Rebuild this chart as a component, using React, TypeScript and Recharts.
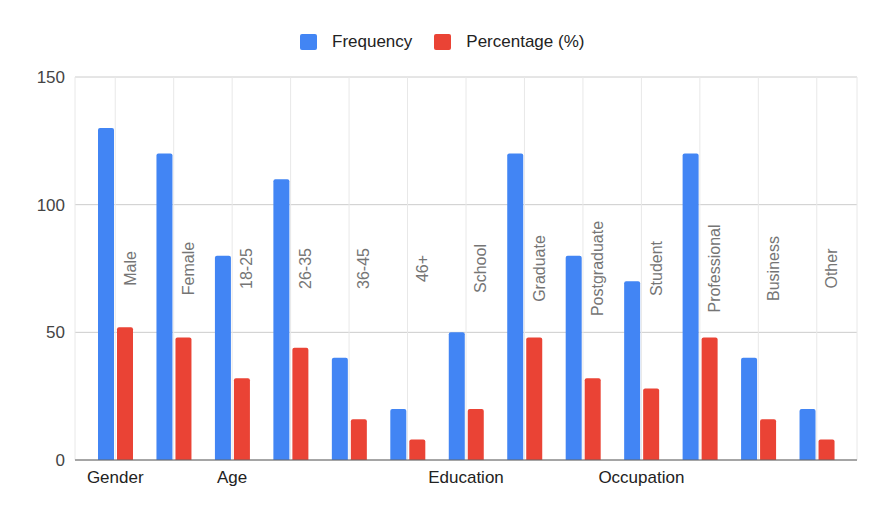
import {
  BarChart,
  Bar,
  XAxis,
  YAxis,
  CartesianGrid,
  LabelList,
} from "recharts";

const categories = [
  "Male",
  "Female",
  "18-25",
  "26-35",
  "36-45",
  "46+",
  "School",
  "Graduate",
  "Postgraduate",
  "Student",
  "Professional",
  "Business",
  "Other",
];

// group name shown under the first category of each group
const groups = [
  "Gender",
  "",
  "Age",
  "",
  "",
  "",
  "Education",
  "",
  "",
  "Occupation",
  "",
  "",
  "",
];

const frequency = [130, 120, 80, 110, 40, 20, 50, 120, 80, 70, 120, 40, 20];
const percentage = [52, 48, 32, 44, 16, 8, 20, 48, 32, 28, 48, 16, 8];

const yTicks = [0, 50, 100, 150];

const seriesNames = { frequency: "Frequency", percentage: "Percentage (%)" };

// category names sit at this value on the y axis
const NAME_LEVEL = 75;

const BLUE = "#4285F4";
const RED = "#EA4335";
const FONT = "Arial, 'Liberation Sans', sans-serif";

const data = categories.map((name, i) => ({
  name,
  group: groups[i],
  frequency: frequency[i],
  percentage: percentage[i],
}));

function GroupTick(props: any) {
  const { x, y, index } = props;
  const label = groups[index];
  if (!label) return <g />;
  return (
    <text
      x={x}
      y={y}
      dy="0.71em"
      textAnchor="middle"
      fill="#222"
      fontSize={17}
      fontFamily={FONT}
    >
      {label}
    </text>
  );
}

function CategoryName(props: any) {
  const { x, y, width, height, index } = props;
  const value = percentage[index];
  const base = y + height;
  const ty = base - (NAME_LEVEL * height) / value;
  const tx = x + width + 2.5;
  return (
    <text
      x={tx}
      y={ty}
      transform={`rotate(-90, ${tx}, ${ty})`}
      textAnchor="middle"
      fill="#757575"
      fontSize={16}
      fontFamily={FONT}
    >
      {categories[index]}
    </text>
  );
}

function LegendItem({ color, label }: { color: string; label: string }) {
  return (
    <div style={{ display: "flex", alignItems: "center" }}>
      <div
        style={{
          width: 17,
          height: 16,
          background: color,
          borderRadius: 2,
          marginRight: 15,
        }}
      />
      <span style={{ fontSize: 17, color: "#222" }}>{label}</span>
    </div>
  );
}

export default function App() {
  return (
    <div
      style={{
        margin: -8,
        width: 869,
        height: 510,
        background: "#f2f2f2",
        position: "relative",
        overflow: "hidden",
        fontFamily: FONT,
      }}
    >
      <div
        style={{
          position: "absolute",
          left: 8,
          top: 7,
          width: 861,
          height: 503,
          background: "#fff",
          boxShadow: "0 0 6px rgba(0,0,0,0.18)",
        }}
      >
        <div
          style={{
            position: "absolute",
            left: 292,
            top: 25,
            display: "flex",
            gap: 22,
            zIndex: 1,
          }}
        >
          <LegendItem color={BLUE} label={seriesNames.frequency} />
          <LegendItem color={RED} label={seriesNames.percentage} />
        </div>
        <BarChart
          width={861}
          height={503}
          data={data}
          margin={{ top: 70, right: 12, bottom: 20, left: 0 }}
          barSize={16}
          barGap={3}
        >
          <CartesianGrid stroke="#cccccc" vertical={false} />
          <CartesianGrid stroke="#e8e8e8" horizontal={false} />
          <XAxis
            dataKey="name"
            interval={0}
            padding={{ left: 11, right: 11 }}
            axisLine={{ stroke: "#666" }}
            tickLine={false}
            tickMargin={5}
            height={30}
            tick={<GroupTick />}
          />
          <YAxis
            domain={[0, 150]}
            ticks={yTicks}
            width={67}
            axisLine={false}
            tickLine={false}
            tickMargin={4}
            tick={{ fill: "#444", fontSize: 17, fontFamily: FONT }}
          />
          <Bar
            dataKey="frequency"
            name={seriesNames.frequency}
            fill={BLUE}
            radius={[2, 2, 0, 0]}
            isAnimationActive={false}
          />
          <Bar
            dataKey="percentage"
            name={seriesNames.percentage}
            fill={RED}
            radius={[2, 2, 0, 0]}
            isAnimationActive={false}
          >
            <LabelList dataKey="percentage" content={<CategoryName />} />
          </Bar>
        </BarChart>
      </div>
    </div>
  );
}
